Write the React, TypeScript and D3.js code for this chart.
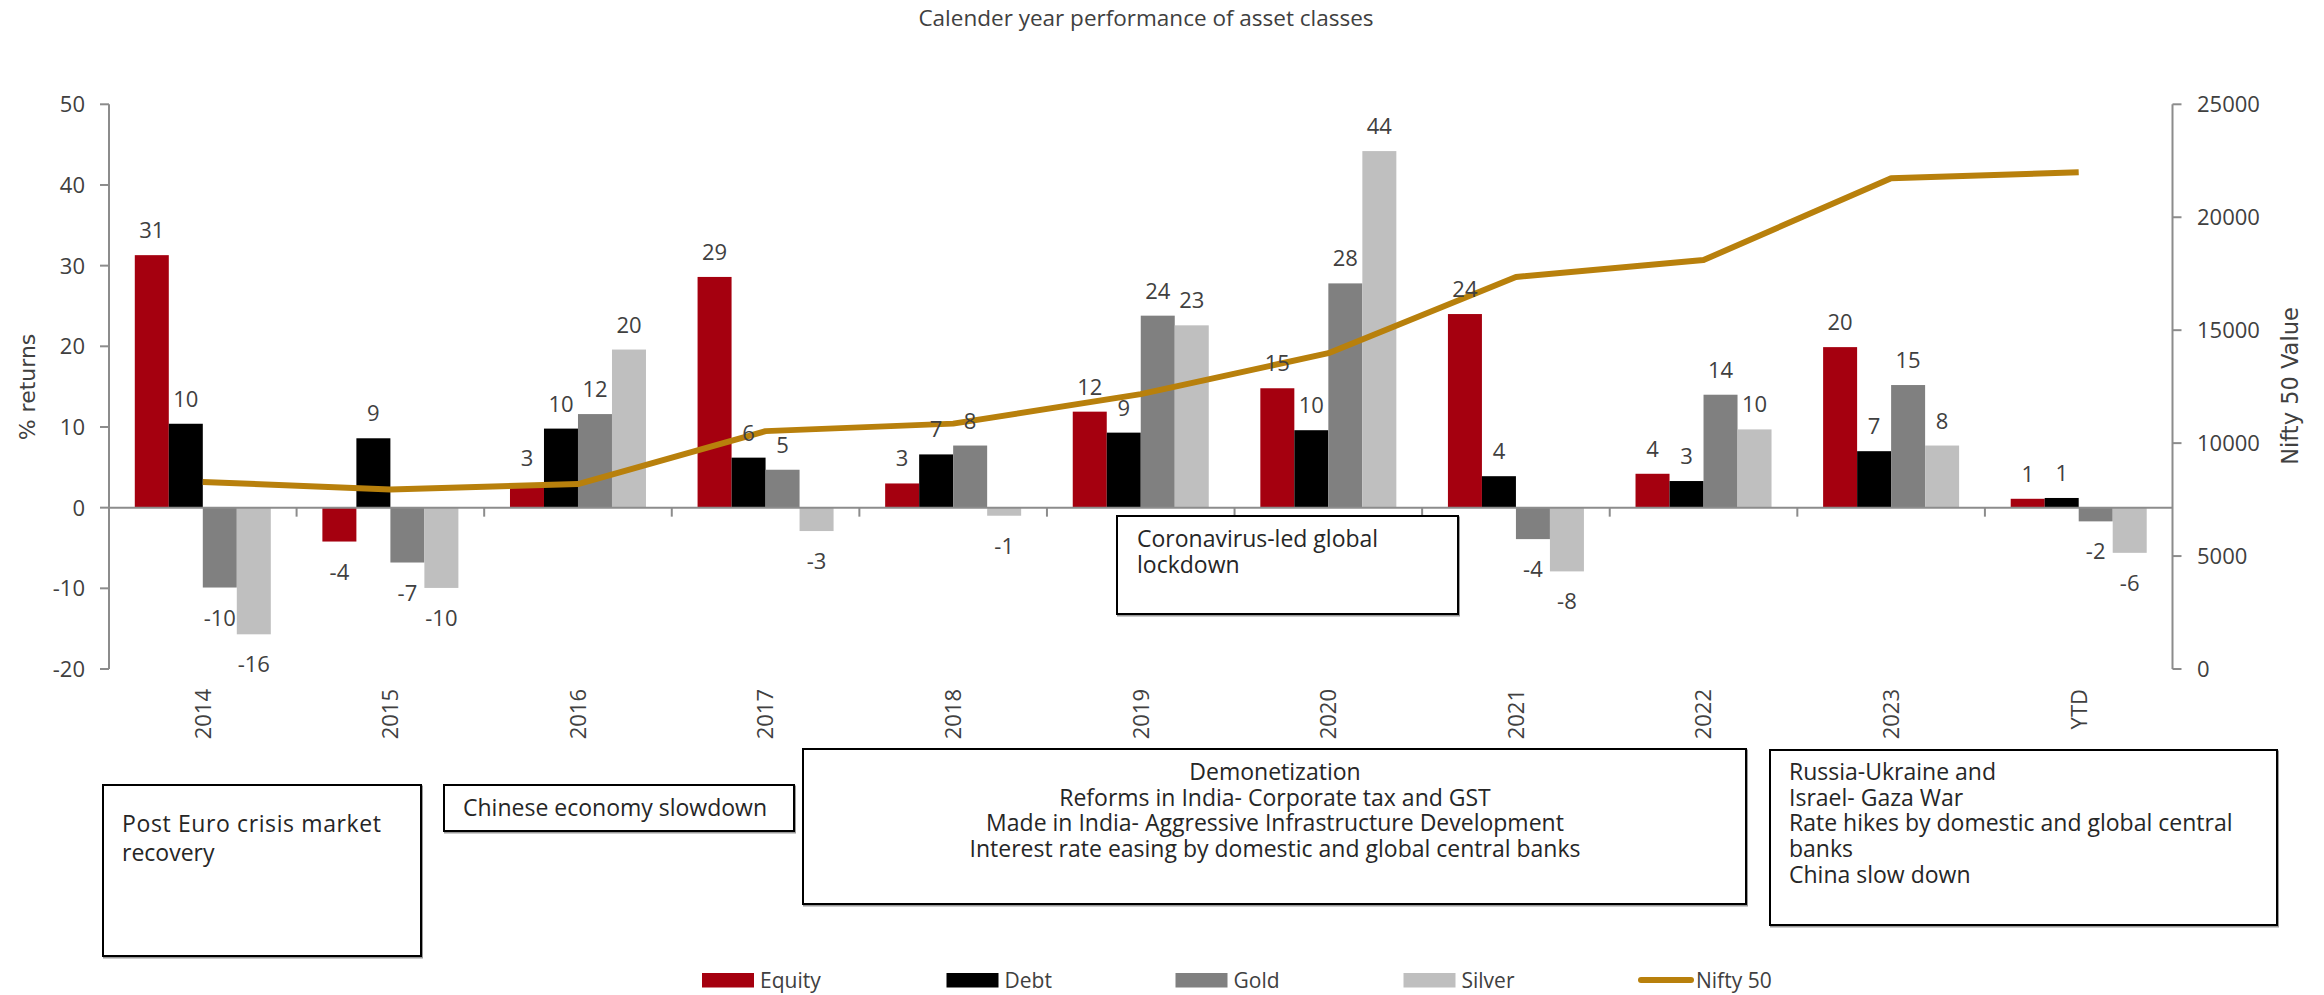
import React from "react";
import * as d3 from "d3";

const categories = ["2014", "2015", "2016", "2017", "2018", "2019", "2020", "2021", "2022", "2023", "YTD"];
const seriesNames = ["Equity", "Debt", "Gold", "Silver"];
const equity = [31.3, -4.2, 3.0, 28.6, 3.0, 11.9, 14.8, 24.0, 4.2, 19.9, 1.1];
const debt = [10.4, 8.6, 9.8, 6.2, 6.6, 9.3, 9.6, 3.9, 3.3, 7.0, 1.2];
const gold = [-9.9, -6.8, 11.6, 4.7, 7.7, 23.8, 27.8, -3.9, 14.0, 15.2, -1.7];
const silver = [-15.7, -9.95, 19.6, -2.9, -1.0, 22.6, 44.2, -7.9, 9.7, 7.7, -5.6];
const nifty = [8283, 7946, 8186, 10531, 10863, 12168, 13982, 17354, 18105, 21731, 21990];
const leftTicks = [-20, -10, 0, 10, 20, 30, 40, 50];
const rightTicks = [0, 5000, 10000, 15000, 20000, 25000];

const title = "Calender year performance of asset classes";
const leftTitle = "% returns";
const rightTitle = "Nifty 50 Value";
const lineName = "Nifty 50";

const note1 = ["Post Euro crisis market", "recovery"];
const note2 = ["Chinese economy slowdown"];
const note3 = [
  "Demonetization",
  "Reforms in India- Corporate tax and GST",
  "Made in India- Aggressive Infrastructure Development",
  "Interest rate easing by domestic and global central banks",
];
const note4 = ["Russia-Ukraine and", "Israel- Gaza War", "Rate hikes by domestic and global central", "banks", "China slow down"];
const note5 = ["Coronavirus-led global", "lockdown"];

const colors = ["#A5000F", "#000000", "#808080", "#BFBFBF"];
const lineColor = "#B8800C";
const axisColor = "#8C8C8C";
const textColor = "#404040";
const noteColor = "#262626";
const FONT = "'Open Sans', sans-serif";
const WIDE = "'DejaVu Sans', sans-serif";

export default function App() {
  const W = 2324;
  const H = 995;
  const x0 = 109;
  const x1 = 2172.5;
  const yTop = 104.3;
  const yBot = 669;

  const x = d3.scaleBand<string>().domain(categories).range([x0, x1]).paddingInner(0).paddingOuter(0);
  const bw = x.bandwidth();
  const gap = bw * 0.1375;
  const sub = d3.scaleBand<string>().domain(seriesNames).range([gap, bw - gap]).padding(0);
  const yL = d3.scaleLinear().domain([-20, 50]).range([yBot, yTop]);
  const yR = d3.scaleLinear().domain([0, 25000]).range([yBot, yTop]);
  const series = [equity, debt, gold, silver];
  const zeroY = yL(0);

  const line = d3
    .line<number>()
    .x((_, i) => (x(categories[i]) as number) + bw / 2)
    .y((d) => yR(d));

  const legendItems = [
    { name: "Equity", x: 702, color: colors[0], type: "rect" },
    { name: "Debt", x: 946.5, color: colors[1], type: "rect" },
    { name: "Gold", x: 1175.5, color: colors[2], type: "rect" },
    { name: "Silver", x: 1403.5, color: colors[3], type: "rect" },
    { name: lineName, x: 1638, color: lineColor, type: "line" },
  ];

  const box = (key: string, bx: number, by: number, bw2: number, bh: number) => (
    <g key={key}>
      <rect x={bx + 1} y={by + 1.5} width={bw2} height={bh} fill="none" stroke="#9a9a9a" strokeWidth={2} />
      <rect x={bx} y={by} width={bw2} height={bh} fill="#fff" stroke="#000" strokeWidth={2} />
    </g>
  );

  return (
    <svg
      width={W}
      height={H}
      style={{ position: "absolute", left: 0, top: 0, display: "block", background: "#fff" }}
      fontFamily={FONT}
    >
      <rect x={0} y={0} width={W} height={H} fill="#fff" />
      <text x={1146} y={26} textAnchor="middle" fontSize={22.5} fill={textColor}>
        {title}
      </text>

      {/* bars */}
      {series.map((vals, si) =>
        vals.map((v, ci) => {
          const bx = (x(categories[ci]) as number) + (sub(seriesNames[si]) as number);
          const yv = yL(v);
          return (
            <rect
              key={`b${si}-${ci}`}
              x={bx}
              y={Math.min(yv, zeroY)}
              width={sub.bandwidth()}
              height={Math.abs(yv - zeroY)}
              fill={colors[si]}
            />
          );
        })
      )}

      {/* left axis */}
      <line x1={x0} x2={x0} y1={yTop} y2={yBot} stroke={axisColor} strokeWidth={2} />
      {leftTicks.map((t) => (
        <g key={`lt${t}`}>
          <line x1={x0 - 9} x2={x0} y1={yL(t)} y2={yL(t)} stroke={axisColor} strokeWidth={2} />
          <text x={85} y={yL(t)} dy="0.36em" textAnchor="end" fontSize={22} fill={textColor}>
            {t}
          </text>
        </g>
      ))}
      {/* right axis */}
      <line x1={x1} x2={x1} y1={yTop} y2={yBot} stroke={axisColor} strokeWidth={2} />
      {rightTicks.map((t) => (
        <g key={`rt${t}`}>
          <line x1={x1} x2={x1 + 9} y1={yR(t)} y2={yR(t)} stroke={axisColor} strokeWidth={2} />
          <text x={2197} y={yR(t)} dy="0.36em" textAnchor="start" fontSize={22} fill={textColor}>
            {t}
          </text>
        </g>
      ))}
      {/* zero axis */}
      <line x1={x0} x2={x1} y1={zeroY} y2={zeroY} stroke={axisColor} strokeWidth={2} />
      {categories.map((c, i) =>
        i === 0 ? null : (
          <line
            key={`xt${c}`}
            x1={x(c) as number}
            x2={x(c) as number}
            y1={zeroY}
            y2={zeroY + 9}
            stroke={axisColor}
            strokeWidth={2}
          />
        )
      )}
      {categories.map((c) => {
        const cx = (x(c) as number) + bw / 2;
        return (
          <text
            key={`xl${c}`}
            transform={`translate(${cx},689) rotate(-90)`}
            dy="0.36em"
            textAnchor="end"
            fontSize={22}
            fill={textColor}
          >
            {c}
          </text>
        );
      })}

      {/* axis titles */}
      <text
        transform={`translate(27,387) rotate(-90)`}
        dy="0.36em"
        textAnchor="middle"
        fontSize={22}
        fontFamily={WIDE}
        fill={textColor}
      >
        {leftTitle}
      </text>
      <text
        transform={`translate(2290,386) rotate(-90)`}
        dy="0.36em"
        textAnchor="middle"
        fontSize={22.5}
        fontFamily={WIDE}
        fill={textColor}
      >
        {rightTitle}
      </text>

      {/* nifty line */}
      <path d={line(nifty) || ""} fill="none" stroke={lineColor} strokeWidth={6} strokeLinejoin="round" />

      {/* data labels */}
      {series.map((vals, si) =>
        vals.map((v, ci) => {
          const cx = (x(categories[ci]) as number) + (sub(seriesNames[si]) as number) + sub.bandwidth() / 2;
          const yv = yL(v);
          const ly = v >= 0 ? yv - 17 : yv + 38;
          return (
            <text key={`l${si}-${ci}`} x={cx} y={ly} textAnchor="middle" fontSize={22} fill={textColor}>
              {Math.round(v)}
            </text>
          );
        })
      )}

      {/* annotation boxes */}
      {box("n1", 103, 785, 318, 171)}
      <text x={122} y={832} fontSize={23} fill={noteColor} textLength={259} lengthAdjust="spacing">
        {note1[0]}
      </text>
      <text x={122} y={861} fontSize={23} fill={noteColor}>
        {note1[1]}
      </text>

      {box("n2", 444, 785, 350, 46)}
      <text x={463} y={816} fontSize={23} fill={noteColor}>
        {note2[0]}
      </text>

      {box("n3", 803, 749, 943, 155)}
      {note3.map((t, i) => (
        <text key={`n3${i}`} x={1275} y={780 + i * 25.6} textAnchor="middle" fontSize={23} fill={noteColor}>
          {t}
        </text>
      ))}

      {box("n4", 1770, 750, 507, 175)}
      {note4.map((t, i) => (
        <text key={`n4${i}`} x={1789} y={780 + i * 25.7} fontSize={23} fill={noteColor}>
          {t}
        </text>
      ))}

      {box("n5", 1117, 516, 341, 98)}
      {note5.map((t, i) => (
        <text key={`n5${i}`} x={1137} y={547 + i * 25.5} fontSize={23} fill={noteColor}>
          {t}
        </text>
      ))}

      {/* legend */}
      {legendItems.map((it) => (
        <g key={`lg${it.name}`}>
          {it.type === "rect" ? (
            <rect x={it.x} y={973} width={52} height={14.5} fill={it.color} />
          ) : (
            <line x1={it.x + 3} x2={it.x + 53} y1={980} y2={980} stroke={it.color} strokeWidth={6} strokeLinecap="round" />
          )}
          <text x={it.x + 58} y={988} fontSize={21} fill={textColor}>
            {it.name}
          </text>
        </g>
      ))}
    </svg>
  );
}
